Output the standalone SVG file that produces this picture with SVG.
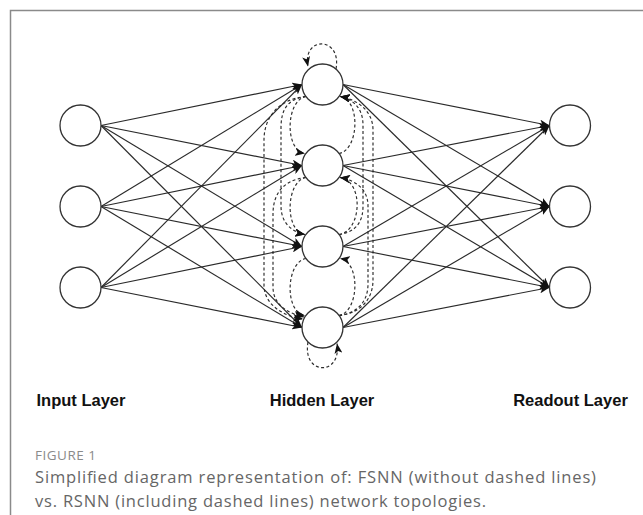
<svg xmlns="http://www.w3.org/2000/svg" width="643" height="515" viewBox="0 0 643 515">
<style>
.node{fill:#fff;stroke:#333;stroke-width:1.3}
.edge{fill:none;stroke:#2a2a2a;stroke-width:1.15}
.rec{fill:none;stroke:#2a2a2a;stroke-width:1.15;stroke-dasharray:3 2.4}
.lbl{font-family:"Liberation Sans",Arial,sans-serif;font-weight:bold;font-size:16.5px;fill:#111}
.fig{font-family:"Open Sans","Liberation Sans",sans-serif;font-size:13.5px;fill:#8a8a8a;letter-spacing:0.5px}
.cap{font-family:"Open Sans","Liberation Sans",sans-serif;font-size:16.5px;fill:#666}
</style>
<defs>
<marker id="arr" markerUnits="userSpaceOnUse" markerWidth="10" markerHeight="8" viewBox="0 0 10 8" refX="10" refY="4" orient="auto">
<path d="M0,0 L10,4 L0,8 L2.5,4 z" fill="#111"/>
</marker>
</defs>
<rect width="643" height="515" fill="#fff"/>
<g id="frame" fill="none" stroke="#8a8a8a" stroke-width="1.5">
<path d="M10.5,515 L10.5,10.5 L643,10.5"/>
</g>
<g id="connectors">
<g id="ff" marker-end="url(#arr)">
<path class="edge" d="M101,125.5 L302,84.5"/>
<path class="edge" d="M101,125.5 L302,165.5"/>
<path class="edge" d="M101,125.5 L302,246.5"/>
<path class="edge" d="M101,125.5 L302,327.5"/>
<path class="edge" d="M101,206.5 L302,84.5"/>
<path class="edge" d="M101,206.5 L302,165.5"/>
<path class="edge" d="M101,206.5 L302,246.5"/>
<path class="edge" d="M101,206.5 L302,327.5"/>
<path class="edge" d="M101,287.5 L302,84.5"/>
<path class="edge" d="M101,287.5 L302,165.5"/>
<path class="edge" d="M101,287.5 L302,246.5"/>
<path class="edge" d="M101,287.5 L302,327.5"/>
<path class="edge" d="M343,84.5 L549.5,125.5"/>
<path class="edge" d="M343,84.5 L549.5,206.5"/>
<path class="edge" d="M343,84.5 L549.5,287.5"/>
<path class="edge" d="M343,165.5 L549.5,125.5"/>
<path class="edge" d="M343,165.5 L549.5,206.5"/>
<path class="edge" d="M343,165.5 L549.5,287.5"/>
<path class="edge" d="M343,246.5 L549.5,125.5"/>
<path class="edge" d="M343,246.5 L549.5,206.5"/>
<path class="edge" d="M343,246.5 L549.5,287.5"/>
<path class="edge" d="M343,327.5 L549.5,125.5"/>
<path class="edge" d="M343,327.5 L549.5,206.5"/>
<path class="edge" d="M343,327.5 L549.5,287.5"/>
</g>
<g id="recurrent" marker-end="url(#arr)">
<path class="rec" d="M336,69 C342,36 302,36 308,66.5"/>
<path class="rec" d="M308,342 C302,376 342,376 337,343.5"/>
<path class="rec" d="M306,96.5 C286,100 284,150 305,153.5"/>
<path class="rec" d="M306,177.5 C286,181 284,231 305,234.5"/>
<path class="rec" d="M306,258.5 C286,262 284,312 305,315.5"/>
<path class="rec" d="M306,96.5 C287,99 281,110 281,128 L281,206 C281,224 293,232 305,234.5"/>
<path class="rec" d="M306,177.5 C283,180 273,194 273,214 L273,287 C273,306 290,314 304,317"/>
<path class="rec" d="M306,96.5 C278,99 264,118 264,140 L264,285 C264,306 286,317 303,319"/>
<path class="rec" d="M339,153.5 C359,150 361,100 340,96.5"/>
<path class="rec" d="M339,234.5 C362,231 364,181 340,177.5"/>
<path class="rec" d="M339,315.5 C359,312 361,262 340,258.5"/>
<path class="rec" d="M339,234.5 C356,232 363,222 363,206 L363,125 C363,107 352,99 340,96.5"/>
<path class="rec" d="M339,315.5 C359,313 368,300 368,284 L368,206 C368,188 354,180 340,177.5"/>
<path class="rec" d="M339,315.5 C362,313 373,298 373,280 L373,130 C373,110 356,99 340,96.5"/>
</g>
</g>
<g id="input1"><circle class="node" cx="80.5" cy="125.5" r="20.5"/></g>
<g id="input2"><circle class="node" cx="80.5" cy="206.5" r="20.5"/></g>
<g id="input3"><circle class="node" cx="80.5" cy="287.5" r="20.5"/></g>
<g id="hidden1"><circle class="node" cx="322.5" cy="84.5" r="20.5"/></g>
<g id="hidden2"><circle class="node" cx="322.5" cy="165.5" r="20.5"/></g>
<g id="hidden3"><circle class="node" cx="322.5" cy="246.5" r="20.5"/></g>
<g id="hidden4"><circle class="node" cx="322.5" cy="327.5" r="20.5"/></g>
<g id="readout1"><circle class="node" cx="570" cy="125.5" r="20.5"/></g>
<g id="readout2"><circle class="node" cx="570" cy="206.5" r="20.5"/></g>
<g id="readout3"><circle class="node" cx="570" cy="287.5" r="20.5"/></g>
<g id="labels">
<text class="lbl" x="81" y="405.5" text-anchor="middle">Input Layer</text>
<text class="lbl" x="322" y="405.5" text-anchor="middle">Hidden Layer</text>
<text class="lbl" x="570.5" y="405.5" text-anchor="middle">Readout Layer</text>
</g>
<g id="caption">
<text class="fig" x="35" y="460">FIGURE 1</text>
<text class="cap" x="35" y="483" textLength="561" lengthAdjust="spacing">Simplified diagram representation of: FSNN (without dashed lines)</text>
<text class="cap" x="35" y="507" textLength="451" lengthAdjust="spacing">vs. RSNN (including dashed lines) network topologies.</text>
</g>
</svg>
